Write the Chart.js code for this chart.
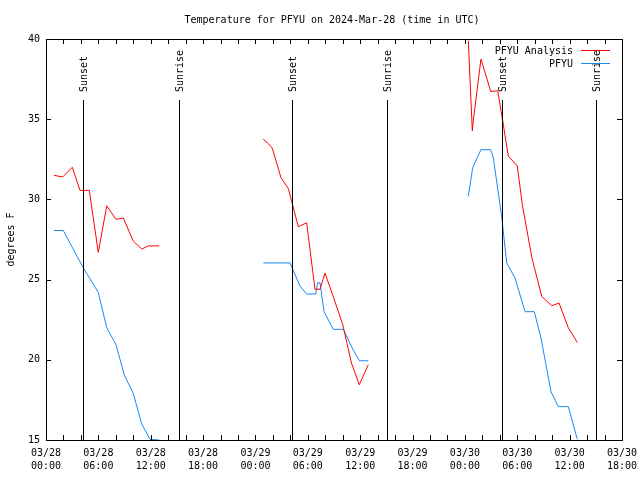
<!DOCTYPE html>
<html>
<head>
<meta charset="utf-8">
<script src="https://cdn.jsdelivr.net/npm/chart.js@4.4.1/dist/chart.umd.min.js"></script>
<style>
  body { margin: 0; background: #fff; }
  canvas { display: block; }
</style>
</head>
<body>
<canvas id="tempChart" width="640" height="480"></canvas>
<script>
// hours since 03/28 00:00 UTC, null = gap between runs
const analysisHours = [0.92, 1.91, 3.01, 3.9, 4.96, 5.99, 6.96, 8.02, 8.86, 10.0, 10.97, 11.72, 12.98, null,
  24.9, 25.47, 25.93, 26.93, 27.77, 28.91, 29.87, 30.82, 31.4, 31.97, 33.0, 34.0, 35.0, 35.9, 36.93, null,
  48.39, 48.85, 48.96, 49.84, 50.96, 51.76, 52.33, 52.97, 54.0, 54.6, 55.7, 56.8, 57.95, 58.78, 59.85, 60.88];
const analysisTemps = [31.5, 31.4, 32.0, 30.56, 30.56, 26.7, 29.6, 28.75, 28.85, 27.4, 26.9, 27.1, 27.1, null,
  33.75, 33.48, 33.19, 31.35, 30.67, 28.3, 28.54, 24.4, 24.4, 25.4, 23.8, 22.2, 19.8, 18.44, 19.7, null,
  39.9, 34.27, 34.9, 38.75, 36.73, 36.77, 34.9, 32.7, 32.08, 29.6, 26.3, 23.96, 23.37, 23.54, 22.0, 21.08];

const obsHours = [0.92, 1.98, 4.2, 5.99, 6.96, 8.02, 8.97, 10.0, 10.97, 11.92, 12.98, null,
  24.9, 27.96, 29.1, 29.87, 30.9, 31.13, 31.4, 31.86, 32.92, 34.07, 35.03, 35.9, 36.93, null,
  48.39, 48.9, 49.84, 50.96, 51.25, 52.2, 52.79, 53.74, 54.89, 55.95, 56.72, 57.87, 58.7, 59.85, 60.88];
const obsTemps = [28.06, 28.06, 25.8, 24.2, 22.0, 20.94, 19.06, 17.9, 16.0, 15.04, 15.0, null,
  26.04, 26.04, 24.6, 24.1, 24.1, 24.8, 24.8, 23.0, 21.9, 21.9, 20.8, 19.94, 19.94, null,
  30.2, 32.0, 33.1, 33.1, 32.6, 29.0, 26.04, 25.1, 23.0, 23.0, 21.35, 18.0, 17.08, 17.08, 15.04];

const sunHours = [4.27, 15.27, 28.22, 39.11, 52.29, 63.06];
const sunLabels = ["Sunset", "Sunrise", "Sunset", "Sunrise", "Sunset", "Sunrise"];

const yTicks = [15, 20, 25, 30, 35, 40];
const monoFont = "DejaVu Sans Mono";

function toPoints(xs, ys) {
  return xs.map((x, i) => ({ x: x === null ? NaN : x, y: ys[i] }));
}

function timeLabel(h) {
  const day = 28 + Math.floor(h / 24);
  const hr = h % 24;
  return ["03/" + day, String(hr).padStart(2, "0") + ":00"];
}

// frame, inward ticks, sun lines, title, legend, y title
const gnuplotLook = {
  id: "gnuplotLook",
  afterDatasetsDraw(chart) {
    const { ctx, chartArea: a, scales } = chart;
    const xs = scales.x, ys = scales.y;
    ctx.save();
    ctx.strokeStyle = "#000";
    ctx.lineWidth = 1;
    ctx.strokeRect(a.left + 0.5, a.top + 0.5, a.right - a.left, a.bottom - a.top);

    ctx.beginPath();
    for (let h = 0; h <= 66; h += 2) {
      const px = Math.round(xs.getPixelForValue(h)) + 0.5;
      ctx.moveTo(px, a.bottom); ctx.lineTo(px, a.bottom - 5);
      ctx.moveTo(px, a.top); ctx.lineTo(px, a.top + 5);
    }
    yTicks.forEach(v => {
      const py = Math.round(ys.getPixelForValue(v)) + 0.5;
      ctx.moveTo(a.left, py); ctx.lineTo(a.left + 5, py);
      ctx.moveTo(a.right, py); ctx.lineTo(a.right - 5, py);
    });
    ctx.stroke();

    // sunrise / sunset markers
    ctx.font = "10px " + monoFont;
    ctx.fillStyle = "#000";
    sunHours.forEach((h, i) => {
      const px = Math.round(xs.getPixelForValue(h)) + 0.5;
      ctx.beginPath();
      ctx.moveTo(px, a.top + 61);
      ctx.lineTo(px, a.bottom);
      ctx.stroke();
      ctx.save();
      ctx.translate(px + 1, a.top + 53);
      ctx.rotate(-Math.PI / 2);
      ctx.textAlign = "left";
      ctx.textBaseline = "middle";
      ctx.fillText(sunLabels[i], 0, 0);
      ctx.restore();
    });

    // title
    ctx.textAlign = "center";
    ctx.textBaseline = "middle";
    ctx.fillText("Temperature for PFYU on 2024-Mar-28 (time in UTC)", (a.left + a.right) / 2 - 2, 20);

    // y title
    ctx.save();
    ctx.translate(11, (a.top + a.bottom) / 2);
    ctx.rotate(-Math.PI / 2);
    ctx.fillText("degrees F", 0, 0);
    ctx.restore();

    // legend
    chart.data.datasets.forEach((ds, i) => {
      const y = a.top + 11 + i * 13;
      ctx.textAlign = "right";
      ctx.fillStyle = "#000";
      ctx.fillText(ds.label, a.right - 49, y + 1);
      ctx.strokeStyle = ds.borderColor;
      ctx.beginPath();
      ctx.moveTo(a.right - 41, Math.round(y) + 0.5);
      ctx.lineTo(a.right - 12, Math.round(y) + 0.5);
      ctx.stroke();
    });
    ctx.restore();
  }
};

new Chart(document.getElementById("tempChart"), {
  type: "line",
  data: {
    datasets: [{
      label: "PFYU Analysis",
      data: toPoints(analysisHours, analysisTemps),
      borderColor: "#ff0000",
      borderWidth: 1,
      pointRadius: 0,
      tension: 0,
      spanGaps: false
    }, {
      label: "PFYU",
      data: toPoints(obsHours, obsTemps),
      borderColor: "#1a88f0",
      borderWidth: 1,
      pointRadius: 0,
      tension: 0,
      spanGaps: false
    }]
  },
  options: {
    responsive: false,
    animation: false,
    events: [],
    layout: { padding: { top: 39, right: 18, left: 0, bottom: 0 } },
    plugins: {
      legend: { display: false },
      tooltip: { enabled: false },
      title: { display: false }
    },
    scales: {
      x: {
        type: "linear",
        min: 0,
        max: 66,
        afterFit: s => { s.height = 40; s.paddingRight = 0; s.paddingLeft = 0; },
        border: { display: false },
        grid: { display: true, drawOnChartArea: false, drawTicks: false },
        ticks: {
          stepSize: 6,
          autoSkip: false,
          maxRotation: 0,
          padding: 7,
          color: "#000",
          font: { family: monoFont, size: 10, lineHeight: 1.3 },
          callback: v => timeLabel(v)
        }
      },
      y: {
        min: 15,
        max: 40,
        afterFit: s => { s.width = 46; },
        border: { display: false },
        grid: { display: true, drawOnChartArea: false, drawTicks: false },
        ticks: {
          stepSize: 5,
          padding: 6,
          color: "#000",
          font: { family: monoFont, size: 10 }
        }
      }
    }
  },
  plugins: [gnuplotLook]
});
</script>
</body>
</html>
